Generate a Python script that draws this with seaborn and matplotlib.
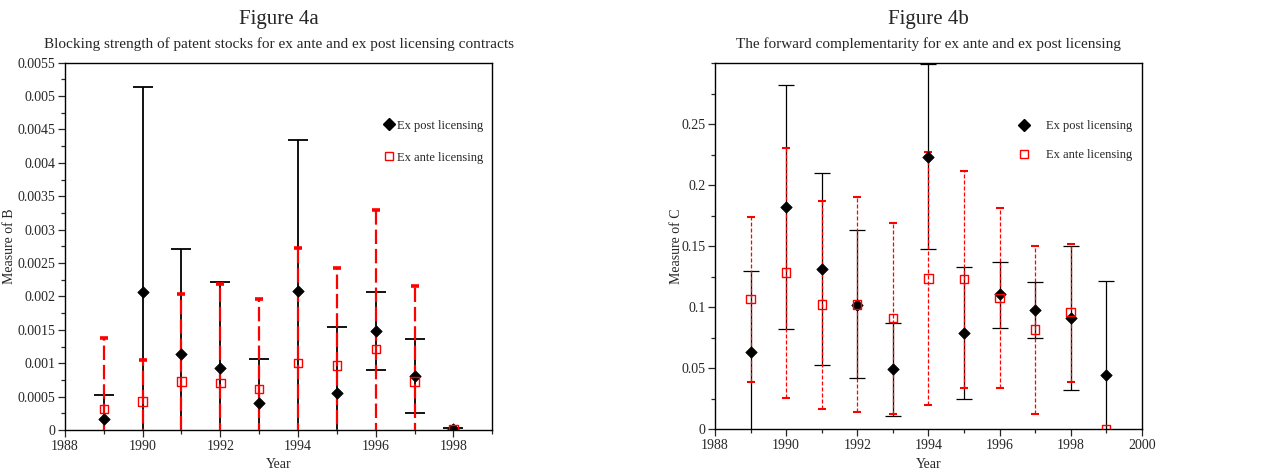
import numpy as np
import pandas as pd
import matplotlib
matplotlib.use("Agg")
import matplotlib.pyplot as plt
import seaborn as sns
from matplotlib.lines import Line2D
from matplotlib.ticker import MultipleLocator

# ---- Figure 4a : measure of B ----
years_a = [1989, 1990, 1991, 1992, 1993, 1994, 1995, 1996, 1997, 1998]
post_b = [0.000165, 0.00206, 0.00114, 0.000925, 0.00041, 0.00208, 0.00055, 0.001485, 0.00081, 0.00001]
post_b_lo = [-0.0002, -0.001, -0.00043, -0.00037, -0.00024, -0.00019, -0.00045, 0.0009, 0.00026, -0.00001]
post_b_hi = [0.00053, 0.00513, 0.00271, 0.00222, 0.00106, 0.00434, 0.00155, 0.00207, 0.00136, 0.00003]
ante_b = [0.000315, 0.000425, 0.000725, 0.0007, 0.00061, 0.001, 0.000965, 0.00121, 0.000725, 0.00002]
ante_b_lo = [-0.00075, -0.0002, -0.00059, -0.00079, -0.00074, -0.00073, -0.0005, -0.00088, -0.00071, -0.00001]
ante_b_hi = [0.001375, 0.001045, 0.00204, 0.002185, 0.00196, 0.002725, 0.00243, 0.0033, 0.00216, 0.00005]

# ---- Figure 4b : measure of C ----
years_b = [1989, 1990, 1991, 1992, 1993, 1994, 1995, 1996, 1997, 1998, 1999]
post_c = [0.0634, 0.182, 0.1314, 0.1022, 0.0492, 0.2232, 0.0787, 0.1107, 0.0978, 0.0913, 0.0445]
post_c_lo = [-0.003, 0.082, 0.053, 0.042, 0.0112, 0.1475, 0.0246, 0.0831, 0.0751, 0.0322, -0.033]
post_c_hi = [0.1295, 0.2825, 0.2098, 0.163, 0.0874, 0.2995, 0.1328, 0.1374, 0.121, 0.1505, 0.1216]
ante_c = [0.1066, 0.1284, 0.1022, 0.1022, 0.091, 0.1235, 0.123, 0.1074, 0.0817, 0.0959, 0.0]
ante_c_lo = [0.0391, 0.0257, 0.0169, 0.0139, 0.0126, 0.02, 0.0342, 0.0342, 0.0128, 0.0391, 0.0]
ante_c_hi = [0.1743, 0.2309, 0.1872, 0.1904, 0.1691, 0.227, 0.2117, 0.1811, 0.1505, 0.1522, 0.0]

sns.set_style("ticks")
plt.rcParams['font.family'] = ['Liberation Serif', 'DejaVu Serif']
plt.rcParams['xtick.direction'] = 'out'
plt.rcParams['ytick.direction'] = 'out'

fig = plt.figure(figsize=(12.81, 4.75), dpi=100)
ax1 = fig.add_axes([0.0507, 0.0947, 0.3336, 0.7733])
ax2 = fig.add_axes([0.5582, 0.0962, 0.3331, 0.7705])


def draw(ax, years, post, plo, phi, ante, alo, ahi, dash, cap_k, cap_r, lw_k, lw_r, capthick_r):
    post = np.array(post); ante = np.array(ante)
    ax.errorbar(years, post, yerr=[post - np.array(plo), np.array(phi) - post], fmt='none',
                ecolor='black', elinewidth=lw_k, capsize=cap_k, capthick=lw_k, zorder=2)
    m = np.array(ahi) > np.array(alo)
    yrs = np.array(years)[m]
    eb = ax.errorbar(yrs, ante[m], yerr=[ante[m] - np.array(alo)[m], np.array(ahi)[m] - ante[m]],
                     fmt='none', ecolor='red', elinewidth=lw_r, capsize=cap_r,
                     capthick=capthick_r, zorder=3)
    eb[2][0].set_linestyle((0, dash))
    df_post = pd.DataFrame({'Year': years, 'value': post})
    df_ante = pd.DataFrame({'Year': years, 'value': ante})
    sns.scatterplot(data=df_post, x='Year', y='value', ax=ax, marker='D', color='black',
                    s=34, edgecolor='black', linewidth=0.5, zorder=4)
    sns.scatterplot(data=df_ante, x='Year', y='value', ax=ax, marker='s', facecolor='none',
                    edgecolor='red', s=36, linewidth=1.0, zorder=5)
    for s in ax.spines.values():
        s.set_linewidth(1.0)
        s.set_color('black')
    ax.xaxis.set_major_locator(MultipleLocator(2))
    ax.xaxis.set_minor_locator(MultipleLocator(1))
    ax.tick_params(which='major', length=5, width=0.9, labelsize=10, pad=2)
    ax.tick_params(which='minor', length=3, width=0.9)
    ax.set_xlabel('Year', fontsize=10, labelpad=4)


draw(ax1, years_a, post_b, post_b_lo, post_b_hi, ante_b, ante_b_lo, ante_b_hi,
     (6.5, 2.2), 7, 3, 1.3, 1.6, 2.6)
ax1.set_xlim(1988, 1999)
ax1.set_ylim(0, 0.0055)
ax1.set_yticks(np.arange(0, 0.00551, 0.0005))
ax1.set_yticklabels(['0', '0.0005', '0.001', '0.0015', '0.002', '0.0025', '0.003',
                     '0.0035', '0.004', '0.0045', '0.005', '0.0055'])
ax1.yaxis.set_minor_locator(MultipleLocator(0.00025))
ax1.set_ylabel('Measure of B', fontsize=10)
ax1.yaxis.set_label_coords(-0.114, 0.5)

draw(ax2, years_b, post_c, post_c_lo, post_c_hi, ante_c, ante_c_lo, ante_c_hi,
     (3.2, 1.6), 6, 3.2, 0.9, 0.9, 1.5)
ax2.set_xlim(1988, 2000)
ax2.set_ylim(0, 0.3)
ax2.set_yticks([0, 0.05, 0.1, 0.15, 0.2, 0.25])
ax2.set_yticklabels(['0', '0.05', '0.1', '0.15', '0.2', '0.25'])
ax2.yaxis.set_minor_locator(MultipleLocator(0.025))
ax2.set_ylabel('Measure of C', fontsize=10)
ax2.yaxis.set_label_coords(-0.075, 0.5)

handles = [Line2D([], [], marker='D', color='black', linestyle='none', markersize=6.5),
           Line2D([], [], marker='s', markerfacecolor='none', markeredgecolor='red',
                  linestyle='none', markersize=6.2)]
labels = ['Ex post licensing', 'Ex ante licensing']
ax1.legend(handles, labels, loc='upper right', bbox_to_anchor=(1.005, 0.875), frameon=False,
           fontsize=9, labelspacing=1.6, handletextpad=0.15, handlelength=1.0)
ax2.legend(handles, labels, loc='upper right', bbox_to_anchor=(1.005, 0.875), frameon=False,
           fontsize=9, labelspacing=1.35, handletextpad=1.3, handlelength=1.0)

fig.text(0.2175, 0.958, 'Figure 4a', ha='center', va='center', fontsize=15)
fig.text(0.2175, 0.907, 'Blocking strength of patent stocks for ex ante and ex post licensing contracts',
         ha='center', va='center', fontsize=11)
fig.text(0.7247, 0.958, 'Figure 4b', ha='center', va='center', fontsize=15)
fig.text(0.7247, 0.907, 'The forward complementarity for ex ante and ex post licensing',
         ha='center', va='center', fontsize=11)

fig.savefig('out.png', dpi=100)
